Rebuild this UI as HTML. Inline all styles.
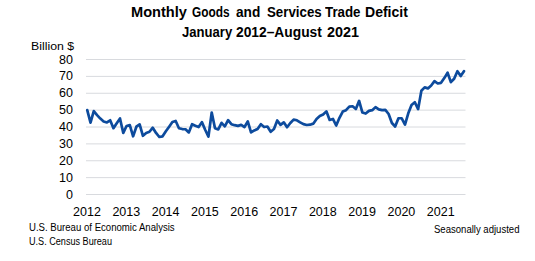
<!DOCTYPE html>
<html><head><meta charset="utf-8"><style>
html,body{margin:0;padding:0;background:#fff;}
body{width:535px;height:261px;position:relative;overflow:hidden;font-family:"Liberation Sans",sans-serif;color:#000;}
.t{position:absolute;white-space:nowrap;}
.tw{font-weight:bold;font-size:14px;transform-origin:0 0;}
.yl{position:absolute;left:40px;width:33px;text-align:right;font-size:12.5px;line-height:14px;}
.xl{position:absolute;top:204px;width:40px;text-align:center;font-size:12.5px;line-height:16px;}
svg{position:absolute;left:0;top:0;}
</style></head><body>
<svg width="535" height="261" viewBox="0 0 535 261">
<g stroke="#d8dade" stroke-width="1"><line x1="86" x2="465.5" y1="59.500" y2="59.500"/><line x1="86" x2="465.5" y1="76.375" y2="76.375"/><line x1="86" x2="465.5" y1="93.250" y2="93.250"/><line x1="86" x2="465.5" y1="110.125" y2="110.125"/><line x1="86" x2="465.5" y1="127.000" y2="127.000"/><line x1="86" x2="465.5" y1="143.875" y2="143.875"/><line x1="86" x2="465.5" y1="160.750" y2="160.750"/><line x1="86" x2="465.5" y1="177.625" y2="177.625"/><line x1="86" x2="465.5" y1="194.500" y2="194.500"/></g>
<polyline fill="none" stroke="#0d4b9d" stroke-width="2.7" stroke-linejoin="round" stroke-linecap="round" points="87.24,110.16 90.51,122.65 93.79,111.17 97.07,115.06 100.34,118.60 103.62,121.47 106.89,122.48 110.17,120.29 113.44,128.22 116.72,123.16 120.00,118.43 123.27,132.94 126.55,126.02 129.82,125.18 133.10,136.32 136.38,126.70 139.65,124.34 142.93,135.81 146.20,132.94 149.48,131.76 152.76,127.71 156.03,132.94 159.31,136.99 162.58,136.32 165.86,131.26 169.13,126.70 172.41,121.97 175.69,120.96 178.96,128.22 182.24,129.06 185.51,129.23 188.79,132.44 192.07,124.17 195.34,125.69 198.62,127.04 201.89,122.14 205.17,129.74 208.44,136.66 211.72,112.52 215.00,128.22 218.27,129.40 221.55,122.82 224.82,126.36 228.10,120.12 231.38,124.17 234.65,125.18 237.93,125.86 241.20,124.84 244.48,127.04 247.76,121.47 251.03,132.44 254.31,130.41 257.58,129.06 260.86,124.17 264.13,127.04 267.41,126.53 270.69,131.76 273.96,129.06 277.24,120.46 280.51,124.84 283.79,122.31 287.07,127.21 290.34,122.99 293.62,119.61 296.89,120.29 300.17,122.31 303.44,124.17 306.72,125.01 310.00,124.67 313.27,123.66 316.55,118.94 319.82,116.07 323.10,114.55 326.38,111.34 329.65,119.95 332.93,118.94 336.20,125.52 339.48,117.76 342.76,111.51 346.03,110.16 349.31,106.62 352.58,106.28 355.86,108.98 359.13,100.88 362.41,112.52 365.69,113.54 368.96,110.84 372.24,110.16 375.51,107.12 378.79,109.32 382.07,110.16 385.34,109.82 388.62,114.04 391.89,122.99 395.17,126.53 398.44,118.26 401.72,118.26 405.00,124.51 408.27,113.37 411.55,105.10 414.82,102.23 418.10,109.15 421.38,90.76 424.65,87.38 427.93,88.39 431.20,85.52 434.48,81.14 437.76,83.50 441.03,82.82 444.31,78.10 447.58,72.70 450.86,82.15 454.13,78.77 457.41,71.18 460.69,76.07 463.96,71.18"/>
</svg>
<div class="t tw" style="top:4px;left:131.46px;transform:scaleX(1.043)">Monthly</div>
<div class="t tw" style="top:4px;left:192.25px;transform:scaleX(0.847)">Goods</div>
<div class="t tw" style="top:4px;left:236.00px;transform:scaleX(0.975)">and</div>
<div class="t tw" style="top:4px;left:266.55px;transform:scaleX(0.950)">Services</div>
<div class="t tw" style="top:4px;left:325.30px;transform:scaleX(0.951)">Trade</div>
<div class="t tw" style="top:4px;left:364.80px;transform:scaleX(1.002)">Deficit</div>
<div class="t tw" style="top:24px;left:181.70px;transform:scaleX(0.935)">January</div>
<div class="t tw" style="top:24px;left:236.30px;transform:scaleX(0.985)">2012–August</div>
<div class="t tw" style="top:24px;left:326.70px;transform:scaleX(1.026)">2021</div>
<div class="t" style="left:31px;top:40px;font-size:11.5px;transform:scaleX(1.07);transform-origin:0 0;">Billion $</div>
<div class="yl" style="top:52.50px">80</div><div class="yl" style="top:69.38px">70</div><div class="yl" style="top:86.25px">60</div><div class="yl" style="top:103.12px">50</div><div class="yl" style="top:120.00px">40</div><div class="yl" style="top:136.88px">30</div><div class="yl" style="top:153.75px">20</div><div class="yl" style="top:170.62px">10</div><div class="yl" style="top:187.50px">0</div>
<div class="xl" style="left:67.00px">2012</div><div class="xl" style="left:106.30px">2013</div><div class="xl" style="left:145.60px">2014</div><div class="xl" style="left:184.90px">2015</div><div class="xl" style="left:224.20px">2016</div><div class="xl" style="left:263.50px">2017</div><div class="xl" style="left:302.80px">2018</div><div class="xl" style="left:342.10px">2019</div><div class="xl" style="left:381.40px">2020</div><div class="xl" style="left:420.70px">2021</div>
<div class="t" style="left:29px;top:222px;font-size:10px;transform:scaleX(0.96);transform-origin:0 0;">U.S. Bureau of Economic Analysis</div>
<div class="t" style="left:29px;top:236px;font-size:10px;transform:scaleX(0.91);transform-origin:0 0;">U.S. Census Bureau</div>
<div class="t" style="left:433.5px;top:224px;font-size:10px;transform:scaleX(0.955);transform-origin:0 0;">Seasonally adjusted</div>
</body></html>
